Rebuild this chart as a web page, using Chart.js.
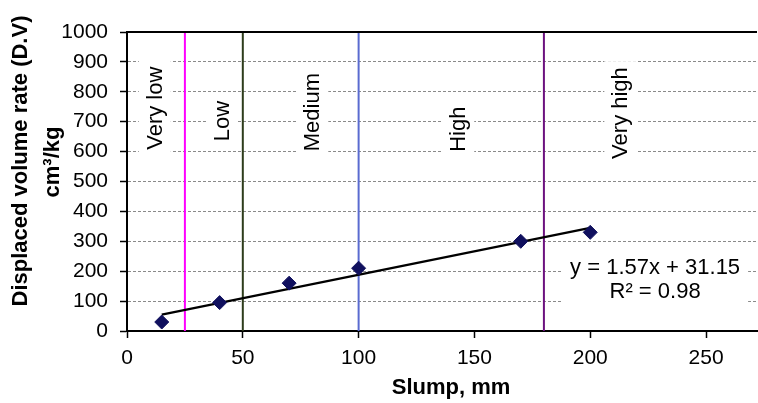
<!DOCTYPE html>
<html>
<head>
<meta charset="utf-8">
<script src="https://cdn.jsdelivr.net/npm/chart.js@4/dist/chart.umd.min.js"></script>
<style>
html, body { margin: 0; padding: 0; background: #fff; overflow: hidden; }
#wrap { width: 765px; height: 403px; }
</style>
</head>
<body>
<div id="wrap"><canvas id="chart"></canvas></div>
<script>
// measured points: slump (mm) vs displaced volume rate
const slump = [15, 40, 70, 100, 170, 200];
const volume = [30, 95, 160, 210, 300, 330];

// trend line ends
const trendX = [15, 200];
const trendY = [55, 345];

// tick labels
const xTicks = [0, 50, 100, 150, 200, 250];
const yTicks = [0, 100, 200, 300, 400, 500, 600, 700, 800, 900, 1000];

// class boundaries
const boundaries = [25, 50, 100, 180];
const boundaryColors = ['#ff00ff', '#2e3d1c', '#5a6bd0', '#6c117f'];

// class labels (placed in data units)
const classNames = ['Very low', 'Low', 'Medium', 'High', 'Very high'];
const classLabelX = [12, 41, 80, 143, 213];
const classLabelY = [745, 702, 732, 675, 729];

const equation = ['y = 1.57x + 31.15', 'R\u00b2 = 0.98'];
const equationX = 228;
const equationY = [211, 130];

const FONT = '"Liberation Sans", Arial, sans-serif';

let datasets = [];
datasets.push({
    data: slump.map((s, i) => ({x: s, y: volume[i]})),
    pointStyle: 'rectRot',
    pointRadius: 7,
    backgroundColor: '#10105e',
    borderColor: '#10105e',
    showLine: false,
    order: 0
});
datasets.push({
    data: trendX.map((s, i) => ({x: s, y: trendY[i]})),
    showLine: true,
    borderColor: '#000',
    borderWidth: 2.2,
    pointRadius: 0,
    order: 1
});
boundaries.forEach((b, i) => {
    datasets.push({
        data: [{x: b, y: 0}, {x: b, y: 1000}],
        showLine: true,
        borderColor: boundaryColors[i],
        borderWidth: 2,
        pointRadius: 0,
        order: 2
    });
});

const extras = {
    id: 'extras',
    beforeDatasetsDraw(chart) {
        const ctx = chart.ctx;
        const x = chart.scales.x, y = chart.scales.y;
        ctx.save();
        ctx.font = '22px ' + FONT;
        ctx.textAlign = 'center';
        ctx.textBaseline = 'middle';
        classNames.forEach((name, i) => {
            const px = x.getPixelForValue(classLabelX[i]);
            const py = y.getPixelForValue(classLabelY[i]);
            const w = ctx.measureText(name).width;
            ctx.save();
            ctx.translate(px, py);
            ctx.rotate(-Math.PI / 2);
            ctx.fillStyle = '#fff';
            ctx.fillRect(-w / 2 - 6, -16, w + 12, 32);
            ctx.fillStyle = '#000';
            ctx.fillText(name, 0, 1);
            ctx.restore();
        });
        // equation box
        const ex = x.getPixelForValue(equationX);
        const w0 = ctx.measureText(equation[0]).width;
        const top = y.getPixelForValue(equationY[0]) - 14;
        const bottom = y.getPixelForValue(equationY[1]) + 14;
        ctx.fillStyle = '#fff';
        ctx.fillRect(ex - w0 / 2 - 8, top, w0 + 16, bottom - top);
        ctx.fillStyle = '#000';
        equation.forEach((t, i) => {
            ctx.fillText(t, ex, y.getPixelForValue(equationY[i]));
        });
        ctx.restore();
    },
    afterDraw(chart) {
        const ctx = chart.ctx;
        const a = chart.chartArea;
        ctx.save();
        ctx.strokeStyle = '#000';
        ctx.lineWidth = 2;
        ctx.beginPath();
        ctx.moveTo(a.left, a.top);
        ctx.lineTo(a.right, a.top);
        ctx.stroke();
        // axis titles
        ctx.fillStyle = '#000';
        ctx.font = 'bold 22px ' + FONT;
        ctx.textAlign = 'center';
        ctx.textBaseline = 'middle';
        ctx.fillText('Slump, mm', 451, 388);
        ctx.save();
        ctx.translate(21, 161);
        ctx.rotate(-Math.PI / 2);
        ctx.fillText('Displaced volume rate (D.V)', 0, 0);
        ctx.restore();
        ctx.save();
        ctx.translate(53, 162);
        ctx.rotate(-Math.PI / 2);
        ctx.fillText('cm\u00b3/kg', 0, 0);
        ctx.restore();
        ctx.restore();
    }
};

new Chart(document.getElementById('chart'), {
    type: 'scatter',
    data: {datasets: datasets},
    options: {
        responsive: true,
        maintainAspectRatio: false,
        animation: false,
        layout: {padding: {top: 32, right: 0, left: 0, bottom: 0}},
        plugins: {legend: {display: false}, tooltip: {enabled: false}},
        scales: {
            x: {
                type: 'linear',
                min: 0,
                max: 272,
                afterBuildTicks: s => { s.ticks = xTicks.map(v => ({value: v})); },
                afterFit: s => { s.height = 72; },
                ticks: {color: '#000', font: {family: FONT, size: 21}, padding: 8, callback: v => String(v)},
                grid: {drawOnChartArea: false, drawTicks: true, tickLength: 7, tickColor: '#000', tickWidth: 1.5},
                border: {color: '#000', width: 2}
            },
            y: {
                min: 0,
                max: 1000,
                afterBuildTicks: s => { s.ticks = yTicks.map(v => ({value: v})); },
                afterFit: s => { s.width = 127; },
                ticks: {color: '#000', font: {family: FONT, size: 21}, padding: 12, callback: v => String(v)},
                grid: {color: '#8a8a8a', lineWidth: 1, tickLength: 7, tickColor: '#000', tickWidth: 1.5, tickBorderDash: []},
                border: {color: '#000', width: 2, dash: [3, 2]}
            }
        }
    },
    plugins: [extras]
});
</script>
</body>
</html>
